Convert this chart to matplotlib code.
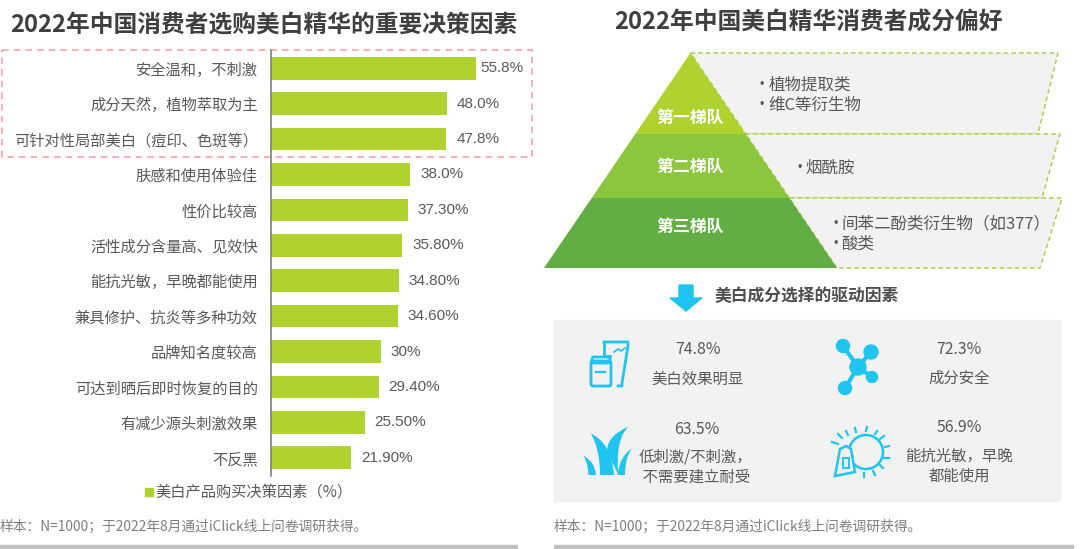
import matplotlib
matplotlib.use("Agg")
import matplotlib.pyplot as plt
from matplotlib.patches import Polygon, Rectangle, Circle, FancyBboxPatch, PathPatch
from matplotlib.path import Path

plt.rcParams['font.family'] = ['Noto Sans CJK SC', 'DejaVu Sans']

# Datos
factores = ["安全温和，不刺激", "成分天然，植物萃取为主", "可针对性局部美白（痘印、色斑等）",
            "肤感和使用体验佳", "性价比较高", "活性成分含量高、见效快", "能抗光敏，早晚都能使用",
            "兼具修护、抗炎等多种功效", "品牌知名度较高", "可达到晒后即时恢复的目的",
            "有减少源头刺激效果", "不反黑"]
valores = [55.8, 48.0, 47.8, 38.0, 37.3, 35.8, 34.8, 34.6, 30, 29.4, 25.5, 21.9]
etiquetas = ["55.8%", "48.0%", "47.8%", "38.0%", "37.30%", "35.80%", "34.80%", "34.60%",
             "30%", "29.40%", "25.50%", "21.90%"]
titulo_izq = "2022年中国消费者选购美白精华的重要决策因素"
titulo_der = "2022年中国美白精华消费者成分偏好"
leyenda = "美白产品购买决策因素（%）"
fuente = "样本：N=1000；于2022年8月通过iClick线上问卷调研获得。"
gradas = ["第一梯队", "第二梯队", "第三梯队"]
ingredientes = [["植物提取类", "维C等衍生物"], ["烟酰胺"], ["间苯二酚类衍生物（如377）", "酸类"]]
subtitulo = "美白成分选择的驱动因素"
drivers_pct = ["74.8%", "72.3%", "63.5%", "56.9%"]
drivers_txt = ["美白效果明显", "成分安全", "低刺激/不刺激，\n 不需要建立耐受", "能抗光敏，早晚\n都能使用"]

W, H = 1080, 549
VERDE = "#B0D22E"
AZUL = "#1FC4F0"
GRIS = "#595959"

fig = plt.figure(figsize=(10.8, 5.49), dpi=100)

# capa en pixeles para todo lo que no es el grafico de barras
bg = fig.add_axes([0, 0, 1, 1])
bg.set_xlim(0, W)
bg.set_ylim(H, 0)
bg.axis("off")


def txt(x, y, s, size=10.5, color=GRIS, ha="left", weight="normal", **kw):
    bg.text(x, y, s, fontsize=size, color=color, ha=ha, va="center", fontweight=weight, **kw)


txt(264, 25, titulo_izq, size=17.1, color="#3F3F3F", ha="center", weight="bold")
txt(808, 23, titulo_der, size=17.1, color="#3F3F3F", ha="center", weight="bold")

# barras
ax = fig.add_axes([271 / W, 1 - 475.5 / H, 260 / W, 425 / H])
pos = list(range(len(valores)))
ax.barh(pos, valores, height=0.64, color=VERDE)
ax.set_ylim(11.5, -0.5)
ax.set_xlim(0, 260 / 3.67)
ax.patch.set_alpha(0)
for s in ["top", "right", "bottom"]:
    ax.spines[s].set_visible(False)
ax.spines["left"].set_color("#7F7F7F")
ax.spines["left"].set_linewidth(1.2)
ax.set_xticks([])
ax.set_yticks(pos)
ax.set_yticklabels(factores, fontsize=11, color=GRIS)
ax.tick_params(axis="y", length=0, pad=9.5)
for i, (v, e) in enumerate(zip(valores, etiquetas)):
    ax.annotate(e, (v, i), xytext=(3 if i == 0 else 7, 0), textcoords="offset points",
                va="center", fontsize=11, color=GRIS, family=['Liberation Sans', 'DejaVu Sans'])

bg.add_patch(Rectangle((2, 50), 530, 107, fill=False, ec="#F4A3AC", lw=1.2, ls=(0, (4, 3))))
bg.add_patch(Rectangle((145, 488), 8, 8, color=VERDE))
txt(155, 492, leyenda, size=11)
txt(0, 527, fuente, size=9.9, color="#7F7F7F")
txt(554, 527, fuente, size=9.9, color="#7F7F7F")
bg.add_patch(Rectangle((0, 545), 517, 3, color="#BFBFBF"))
bg.add_patch(Rectangle((554, 545), 519, 3, color="#BFBFBF"))

# piramide
ys = [53, 134, 198, 268]
cx, semi = 690.5, 146.5
colores = [VERDE, "#8CC63F", "#62AE45"]
fondo_r = [(1058, 1038), (1060, 1042), (1062, 1040)]
for i in range(3):
    y0, y1 = ys[i], ys[i + 1]
    x0 = semi * (y0 - ys[0]) / (ys[3] - ys[0])
    x1 = semi * (y1 - ys[0]) / (ys[3] - ys[0])
    bg.add_patch(Polygon([(cx + x0, y0), (fondo_r[i][0], y0), (fondo_r[i][1], y1), (cx + x1, y1)],
                         closed=True, fc="#F2F2F2", ec="#A9D24F", lw=1.1, ls=(0, (3, 2)), zorder=1))
    bg.add_patch(Polygon([(cx - x0, y0), (cx + x0, y0), (cx + x1, y1), (cx - x1, y1)],
                         closed=True, fc=colores[i], ec="none", zorder=2))
for g, y in zip(gradas, [118, 167, 227]):
    txt(cx, y, g, size=12.2, color="white", ha="center", weight="bold", zorder=3)
for lista, x, yy in zip(ingredientes, [760, 797, 833], [(85, 105), (168,), (224, 244)]):
    for s, y in zip(lista, yy):
        txt(x, y, "•", size=9, zorder=3, family=['Liberation Sans', 'DejaVu Sans'])
        txt(x + 8.5, y, s, size=11.9, zorder=3)

# flecha y subtitulo
bg.add_patch(Polygon([(679, 285), (693, 285), (693, 298), (702, 298), (686, 311), (670, 298), (679, 298)],
                     closed=True, color=AZUL))
txt(715, 296, subtitulo, size=12.1, color="#4D4D4D", weight="bold")

# panel gris
bg.add_patch(Rectangle((554, 320), 506, 181, color="#F2F2F2", zorder=0))
for s, x, y in zip(drivers_pct, [698, 959, 697, 959], [350, 350, 430, 427]):
    txt(x, y, s, size=11.4, ha="center")
for s, x, y in zip(drivers_txt, [698, 959, 695, 959], [379, 378, 467, 466]):
    txt(x, y, s, size=11.1, ha="center", linespacing=1.2)


# iconos
def contorno(p, lw=2):
    bg.add_patch(p)
    p.set(fill=False, ec=AZUL, lw=lw)


# tubo y tarro
bg.plot([604, 628, 628, 622, 622, 618], [342, 342, 346, 383, 386, 386], color=AZUL, lw=2)
bg.plot([604, 604, 610], [342, 356, 356], color=AZUL, lw=2)
bg.plot([614, 618, 621, 625], [352, 349, 351, 348], color=AZUL, lw=1.2)
contorno(FancyBboxPatch((591, 361), 20, 25, boxstyle="round,pad=0,rounding_size=2"))
contorno(FancyBboxPatch((592, 357), 18, 6, boxstyle="round,pad=0,rounding_size=2"))
bg.plot([596, 605], [372, 372], color=AZUL, lw=1.6)


# hierba
def hoja(puntos):
    verts = [(550 + x / 3, 315 + y / 3) for x, y in puntos]
    codes = [Path.MOVETO, Path.CURVE3, Path.CURVE3, Path.LINETO, Path.CURVE3, Path.CURVE3]
    bg.add_patch(PathPatch(Path(verts, codes), fc=AZUL, ec="none"))


hoja([(100, 422), (135, 440), (138, 480), (115, 480), (115, 445), (100, 422)])
hoja([(122, 355), (185, 385), (192, 480), (150, 480), (150, 400), (122, 355)])
hoja([(235, 335), (195, 375), (205, 480), (172, 410), (168, 365), (235, 335)])
hoja([(245, 400), (208, 425), (203, 480), (225, 480), (225, 430), (245, 400)])

# molecula
nucleo = (858, 367)
for b, r in zip([(843, 346), (871, 352), (872, 377), (845, 388)], [6.5, 7, 5.5, 6.5]):
    bg.plot([nucleo[0], b[0]], [nucleo[1], b[1]], color=AZUL, lw=3)
    bg.add_patch(Circle(b, r, color=AZUL))
bg.add_patch(Circle(nucleo, 8, color=AZUL))

# sol y botella
bg.add_patch(Circle((866, 452), 17, fill=False, ec=AZUL, lw=1.8))
rayos = [((832, 442), (838, 444)), ((838, 434), (842, 438)), ((846, 431), (848, 435)),
         ((855, 428), (856, 432)), ((867, 427), (866, 431)), ((877, 431), (875, 434)),
         ((884, 436), (880, 439)), ((889, 446), (885, 447)), ((889, 458), (884, 458)),
         ((883, 468), (880, 465)), ((875, 475), (873, 471)), ((864, 477), (864, 473))]
for a, b in rayos:
    bg.plot([a[0], b[0]], [a[1], b[1]], color=AZUL, lw=1.6)
bg.add_patch(Polygon([(840, 449), (846, 446), (851, 449), (855, 472), (835, 476)],
                     closed=True, fc="#F2F2F2", ec=AZUL, lw=1.8, zorder=3))
bg.add_patch(Rectangle((843, 458), 6, 10, fill=False, ec=AZUL, lw=1.4, zorder=4))

fig.savefig("out.png", dpi=100)
